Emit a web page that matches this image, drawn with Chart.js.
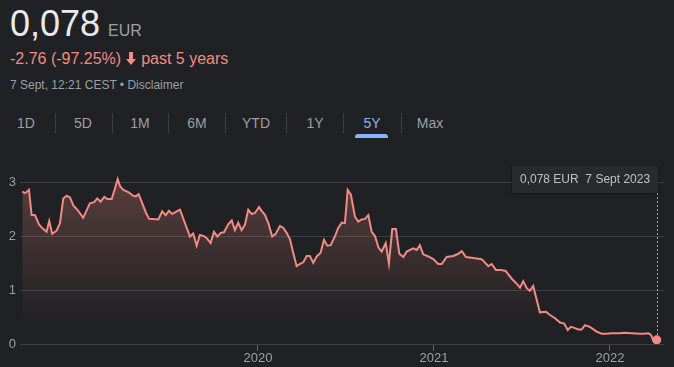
<!DOCTYPE html>
<html>
<head>
<meta charset="utf-8">
<script src="https://cdn.jsdelivr.net/npm/chart.js@4"></script>
<style>
  body { margin:0; width:674px; height:367px; background:#202124; font-family:Arial, "Liberation Sans", sans-serif; overflow:hidden; position:relative; }
  .abs { position:absolute; white-space:nowrap; }
  #price { left:10px; top:2px; font-size:36px; color:#e8eaed; line-height:44px; }
  #price span { font-size:16px; color:#9aa0a6; margin-left:8px; }
  #change { left:10px; top:48px; font-size:16px; color:#f28b82; line-height:22px; }
  #change svg { vertical-align:-1px; margin:0 5px 0 5px; }
  #stamp { left:10px; top:77px; font-size:12px; color:#9aa0a6; line-height:16px; }
  .tab { top:114px; font-size:14px; color:#9aa0a6; line-height:18px; transform:translateX(-50%); }
  .sep { top:113px; width:1px; height:20px; background:#3c4043; }
  #uline { left:355px; top:134px; width:33px; height:4px; background:#8ab4f8; border-radius:3px 3px 0 0; }
  #tip { left:512px; top:166px; width:146px; height:27px; background:#292a2d; color:#bdc1c6; font-size:12px; line-height:27px; text-indent:8px; box-shadow:0 1px 3px rgba(0,0,0,0.4); }
  #wrap { left:0; top:150px; width:674px; height:217px; }
</style>
</head>
<body>
<div class="abs" id="price">0,078<span>EUR</span></div>
<div class="abs" id="change">-2.76 (-97.25%)<svg width="10" height="13" viewBox="0 0 10 13"><path d="M3 0h4v7h3l-5 6-5-6h3z" fill="#f28b82"/></svg>past 5 years</div>
<div class="abs" id="stamp">7 Sept, 12:21 CEST • Disclaimer</div>
<div id="tabs"></div>
<div class="abs" id="uline"></div>
<div class="abs" id="wrap"><canvas id="myChart"></canvas></div>
<div class="abs" id="tip">0,078 EUR&nbsp;&nbsp;7 Sept 2023</div>
<script>
const ranges = ['1D','5D','1M','6M','YTD','1Y','5Y','Max'];
const rangeX = [26, 83, 140, 197, 256, 315, 372, 430];
const sepX = [55, 112, 168, 225, 286, 343, 401];

// dates as decimal years, prices in EUR
const dates = [2018.661,2018.676,2018.686,2018.699,2018.714,2018.733,2018.757,2018.780,2018.799,2018.814,
  2018.831,2018.856,2018.875,2018.894,2018.913,2018.932,2018.951,2018.979,2019.007,2019.045,
  2019.070,2019.087,2019.106,2019.127,2019.144,2019.169,2019.188,2019.203,2019.216,2019.235,
  2019.263,2019.292,2019.307,2019.322,2019.339,2019.364,2019.382,2019.434,2019.456,2019.476,
  2019.494,2019.513,2019.538,2019.557,2019.585,2019.601,2019.614,2019.632,2019.652,2019.670,
  2019.693,2019.709,2019.731,2019.750,2019.769,2019.788,2019.807,2019.831,2019.851,2019.869,
  2019.888,2019.907,2019.926,2019.945,2019.964,2019.983,2020.006,2020.021,2020.040,2020.059,
  2020.081,2020.101,2020.125,2020.144,2020.163,2020.182,2020.201,2020.220,2020.239,2020.257,
  2020.277,2020.295,2020.314,2020.334,2020.356,2020.375,2020.394,2020.413,2020.438,2020.456,
  2020.476,2020.494,2020.510,2020.528,2020.551,2020.570,2020.589,2020.608,2020.627,2020.646,
  2020.665,2020.684,2020.703,2020.726,2020.744,2020.763,2020.784,2020.803,2020.826,2020.845,
  2020.882,2020.902,2020.920,2020.939,2020.968,2020.996,2021.024,2021.044,2021.072,2021.110,
  2021.138,2021.158,2021.182,2021.223,2021.271,2021.309,2021.328,2021.352,2021.379,2021.407,
  2021.441,2021.476,2021.489,2021.507,2021.527,2021.545,2021.564,2021.584,2021.602,2021.636,
  2021.659,2021.688,2021.716,2021.740,2021.760,2021.778,2021.797,2021.820,2021.839,2021.858,
  2021.886,2021.924,2021.953,2021.981,2022.010,2022.057,2022.085,2022.123,2022.170,2022.193,
  2022.218,2022.233,2022.250,2022.266];
const prices = [2.84,2.81,2.83,2.87,2.40,2.40,2.22,2.14,2.09,2.29,
  2.05,2.11,2.25,2.71,2.76,2.73,2.58,2.48,2.35,2.62,
  2.64,2.71,2.65,2.74,2.70,2.70,2.90,3.07,2.94,2.87,
  2.83,2.76,2.75,2.79,2.65,2.44,2.33,2.32,2.47,2.40,
  2.48,2.42,2.47,2.50,2.25,2.11,2.00,2.06,1.83,2.03,
  2.01,1.97,1.88,2.09,2.00,2.07,2.08,2.23,2.30,2.12,
  2.26,2.12,2.22,2.50,2.42,2.44,2.55,2.48,2.40,2.25,
  2.00,2.05,2.20,2.16,2.07,1.95,1.69,1.45,1.49,1.52,
  1.64,1.64,1.51,1.63,1.70,1.94,1.83,1.84,2.01,2.16,
  2.26,2.25,2.87,2.78,2.37,2.28,2.32,2.33,2.40,2.09,
  2.01,1.80,1.72,1.88,1.50,2.14,2.14,1.68,1.62,1.72,
  1.78,1.75,1.84,1.67,1.63,1.58,1.49,1.49,1.62,1.64,
  1.68,1.73,1.62,1.60,1.58,1.45,1.49,1.38,1.38,1.36,
  1.22,1.10,1.05,1.17,1.04,0.99,1.08,0.82,0.59,0.60,
  0.54,0.48,0.40,0.38,0.26,0.32,0.30,0.27,0.27,0.35,
  0.32,0.23,0.19,0.19,0.20,0.20,0.21,0.20,0.19,0.19,
  0.20,0.17,0.04,0.078];
const yearTicks = [2020, 2021, 2022];
const priceTicks = [0, 1, 2, 3];

const tabs = document.getElementById('tabs');
ranges.forEach((r, i) => {
  const d = document.createElement('div');
  d.className = 'abs tab';
  d.style.left = rangeX[i] + 'px';
  if (r === '5Y') d.style.color = '#8ab4f8';
  d.textContent = r;
  tabs.appendChild(d);
});
sepX.forEach(x => {
  const s = document.createElement('div');
  s.className = 'abs sep';
  s.style.left = x + 'px';
  tabs.appendChild(s);
});

const lastIdx = prices.length - 1;
const crosshair = {
  id: 'crosshair',
  afterDatasetsDraw(chart) {
    const c = chart.ctx;
    const x = chart.scales.x.getPixelForValue(dates[lastIdx]);
    const y = chart.scales.y.getPixelForValue(prices[lastIdx]);
    c.save();
    c.strokeStyle = '#9aa0a6';
    c.lineWidth = 1;
    c.setLineDash([2, 2]);
    c.beginPath();
    c.moveTo(Math.round(x) + 0.5, 43);
    c.lineTo(Math.round(x) + 0.5, y);
    c.stroke();
    c.restore();
  }
};

const ctx = document.getElementById('myChart').getContext('2d');
const myChart = new Chart(ctx, {
  type: 'line',
  data: {
    datasets: [{
      data: dates.map((d, i) => ({ x: d, y: prices[i] })),
      borderColor: '#f28b82',
      borderWidth: 2,
      tension: 0,
      fill: 'origin',
      backgroundColor(context) {
        const area = context.chart.chartArea;
        if (!area) return 'rgba(242,139,130,0.2)';
        const g = context.chart.ctx.createLinearGradient(0, area.top + 15, 0, area.bottom - 20);
        g.addColorStop(0, 'rgba(242,139,130,0.26)');
        g.addColorStop(1, 'rgba(242,139,130,0)');
        return g;
      },
      pointRadius: ctx => ctx.dataIndex === lastIdx ? 4.5 : 0,
      pointBackgroundColor: '#f28b82',
      pointBorderWidth: 0
    }]
  },
  options: {
    responsive: true,
    maintainAspectRatio: false,
    animation: false,
    layout: { padding: { top: 20, right: 10, left: 0, bottom: 0 } },
    plugins: { legend: { display: false }, tooltip: { enabled: false } },
    scales: {
      x: {
        type: 'linear',
        min: 2018.648,
        max: 2022.307,
        afterBuildTicks: s => { s.ticks = yearTicks.map(v => ({ value: v })); },
        afterFit: s => { s.height = 23; },
        border: { display: false },
        grid: { drawOnChartArea: false, drawTicks: true, tickLength: 7, color: '#5f6368' },
        ticks: { color: '#9aa0a6', font: { family: 'Arial', size: 13 }, padding: 0, maxRotation: 0, callback: v => String(v) }
      },
      y: {
        min: 0,
        max: 3.24,
        afterBuildTicks: s => { s.ticks = priceTicks.map(v => ({ value: v })); },
        afterFit: s => { s.width = 20; },
        border: { display: false },
        grid: { color: '#3c4043', lineWidth: 1, drawTicks: false },
        ticks: { color: '#9aa0a6', font: { family: 'Arial', size: 13 }, padding: 4 }
      }
    }
  },
  plugins: [crosshair]
});
</script>
</body>
</html>
